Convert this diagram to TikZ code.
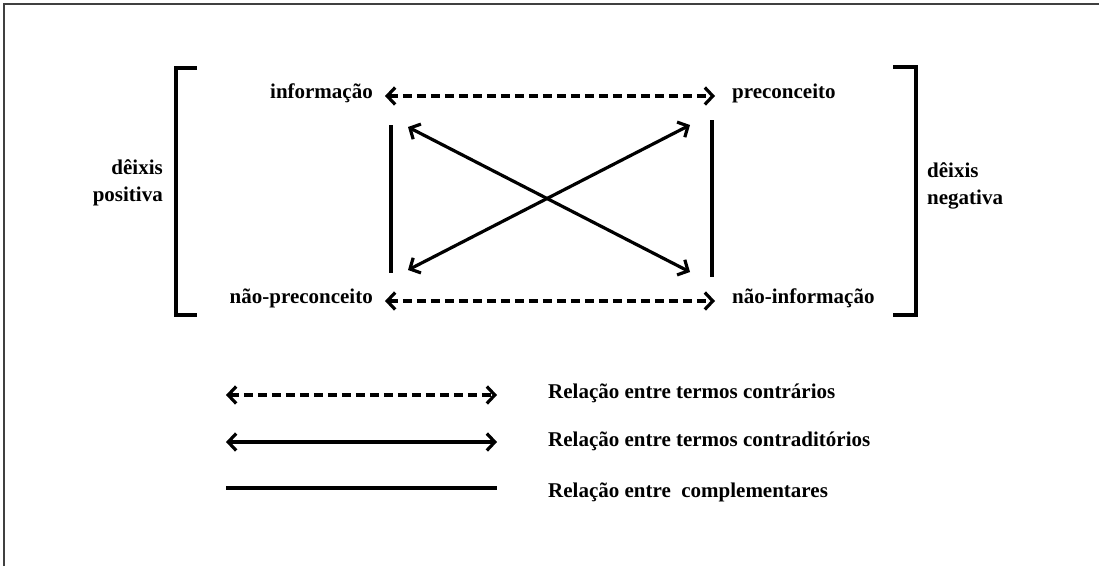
\documentclass[tikz,border=0pt]{standalone}
\usepackage{fontspec}
\setmainfont{Liberation Serif}
\usetikzlibrary{arrows.meta}
\tikzset{
  termo/.style={font=\fontsize{21}{27}\selectfont\bfseries, inner sep=0pt, text height=1.5ex, text depth=.3ex},
  barb/.style={line width=3.2pt, {Straight Barb[length=8pt,width=17pt]}-{Straight Barb[length=8pt,width=17pt]}},
  tracejado/.style={barb, dash pattern=on 9pt off 5pt},
  colchete/.style={line width=3.6pt},
  compl/.style={line width=3.4pt}
}
\begin{document}
\begin{tikzpicture}[x=1pt,y=-1pt]
\useasboundingbox (0,0) rectangle (1099,566);
\draw[line width=1.5pt, black!75] (4,566) -- (4,4) -- (1099,4);
\node[termo, anchor=east] (info) at (373,96) {informação};
\node[termo, anchor=west] (prec) at (732,96) {preconceito};
\node[termo, anchor=east] (naoprec) at (373,301) {não-preconceito};
\node[termo, anchor=west] (naoinfo) at (732,301) {não-informação};
\node[termo, anchor=east, align=right] (positiva) at (163,199) {dêixis\\positiva};
\node[termo, anchor=west, align=left] (negativa) at (927,202) {dêixis\\negativa};
\draw[colchete] (197,68) -- (176,68) -- (176,315) -- (197,315);
\draw[colchete] (893,67) -- (916,67) -- (916,315) -- (893,315);
\draw[tracejado] ([xshift=12pt]info.east) -- ([xshift=-17pt]prec.west);
\draw[tracejado] ([xshift=12pt]naoprec.east) -- ([xshift=-17pt]naoinfo.west);
\coordinate (a) at (408,127);
\coordinate (b) at (690,125);
\coordinate (c) at (408,270);
\coordinate (d) at (690,272);
\draw[barb] (a) -- (d);
\draw[barb] (c) -- (b);
\draw[compl] (391,125) coordinate (e) -- (391,273) coordinate (f);
\draw[compl] (712,120) coordinate (g) -- (712,277) coordinate (h);
\coordinate (l1) at (226,395);
\coordinate (r1) at (497,395);
\coordinate (l2) at (226,442);
\coordinate (r2) at (497,442);
\coordinate (l3) at (226,488);
\coordinate (r3) at (497,488);
\draw[tracejado] (l1) -- (r1);
\draw[barb] (l2) -- (r2);
\draw[compl] (l3) -- (r3);
\node[termo, anchor=west] (contrarios) at (548,396) {Relação entre termos contrários};
\node[termo, anchor=west] (contraditorios) at (548,444) {Relação entre termos contraditórios};
\node[termo, anchor=west] (complementares) at (548,495) {Relação entre\ \ complementares};
\end{tikzpicture}
\end{document}
